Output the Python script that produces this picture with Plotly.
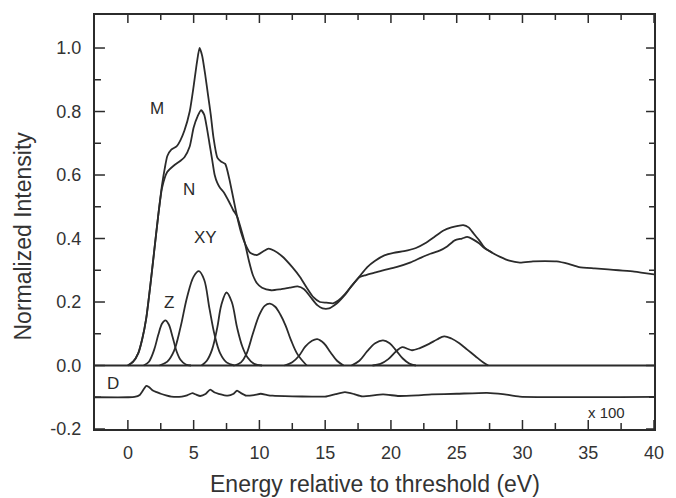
import plotly.graph_objects as go

# ---- measured spectra (energy in eV, normalized intensity) ----
m_energy = [0.0, 0.4, 0.8, 1.1, 1.4, 1.7, 2.0, 2.3, 2.6, 2.8, 3.0, 3.3, 3.7, 4.0, 4.3, 4.7,
            5.0, 5.25, 5.45, 5.65, 5.9, 6.1, 6.3, 6.5, 6.8, 7.1, 7.4, 7.7, 8.0, 8.3, 8.6,
            8.9, 9.3, 9.8, 10.3, 10.7, 11.1, 11.7, 12.5, 13.1, 13.6, 14.1, 14.6, 15.1, 15.6,
            16.0, 16.5, 17.0, 17.6, 18.2, 18.8, 19.5, 20.2, 21.0, 21.9, 22.6, 23.3, 24.0,
            24.6, 25.1, 25.5, 25.9, 26.3, 26.7, 27.1, 27.7, 28.3, 29.0, 29.8, 30.8, 31.7,
            32.6, 33.5, 34.3, 35.5, 36.5, 37.3, 38.5, 40.0]
m_values = [0.0, 0.012, 0.04, 0.085, 0.15, 0.25, 0.36, 0.47, 0.57, 0.62, 0.66, 0.68, 0.69,
            0.71, 0.74, 0.8, 0.88, 0.955, 1.0, 0.975, 0.91, 0.85, 0.79, 0.72, 0.655, 0.642,
            0.635, 0.59, 0.53, 0.47, 0.42, 0.385, 0.355, 0.348, 0.36, 0.368, 0.362, 0.345,
            0.31, 0.278, 0.245, 0.215, 0.2, 0.198, 0.196, 0.205, 0.225, 0.25, 0.28, 0.31,
            0.33, 0.347, 0.355, 0.36, 0.37, 0.385, 0.405, 0.425, 0.435, 0.44, 0.442, 0.435,
            0.415, 0.395, 0.372, 0.355, 0.342, 0.33, 0.324, 0.328, 0.329, 0.328, 0.32,
            0.31, 0.306, 0.303, 0.3, 0.296, 0.287]

n_energy = [0.0, 0.4, 0.8, 1.1, 1.4, 1.7, 2.0, 2.3, 2.6, 3.0, 3.5, 4.0, 4.3, 4.7, 5.0, 5.3,
            5.56, 5.8, 6.0, 6.2, 6.4, 6.6, 6.8, 7.0, 7.3, 7.7, 8.0, 8.3, 8.6, 8.9, 9.2, 9.5,
            9.8, 10.2, 10.9, 11.6, 12.3, 12.9, 13.4, 13.9, 14.4, 14.8, 15.3, 15.7, 16.0, 16.5,
            17.0, 17.6, 18.1, 18.7, 19.4, 20.4, 21.5, 22.3, 23.0, 23.7, 24.3, 24.85, 25.4,
            25.8, 26.2, 26.7, 27.1, 27.7]
n_values = [0.0, 0.012, 0.04, 0.085, 0.15, 0.25, 0.36, 0.47, 0.56, 0.61, 0.63, 0.645,
            0.656, 0.69, 0.75, 0.785, 0.804, 0.79, 0.75, 0.7, 0.65, 0.6, 0.575, 0.56, 0.545,
            0.515, 0.49, 0.47, 0.43, 0.385, 0.33, 0.285, 0.26, 0.245, 0.237, 0.24, 0.245,
            0.249, 0.24, 0.215, 0.19, 0.18, 0.18, 0.19, 0.2, 0.222, 0.25, 0.278, 0.285,
            0.292, 0.3, 0.31, 0.325, 0.34, 0.352, 0.362, 0.376, 0.394, 0.4, 0.405, 0.398,
            0.385, 0.37, 0.355]

# ---- fitted component peaks ----
z_energy = [1.2, 1.6, 2.0, 2.3, 2.6, 2.85, 3.1, 3.4, 3.7, 4.0, 4.4, 4.8]
z_values = [0.0, 0.012, 0.05, 0.095, 0.132, 0.142, 0.13, 0.09, 0.045, 0.018, 0.003, 0.0]

xy_energy = [2.4, 3.0, 3.5, 4.0, 4.5, 5.0, 5.4, 5.8, 6.2, 6.6, 7.0, 7.5, 8.1]
xy_values = [0.0, 0.012, 0.045, 0.12, 0.215, 0.28, 0.297, 0.27, 0.18, 0.095, 0.04, 0.01, 0.0]

p3_energy = [5.6, 6.0, 6.4, 6.8, 7.1, 7.5, 7.9, 8.3, 8.7, 9.1, 9.6, 10.2]
p3_values = [0.0, 0.015, 0.05, 0.12, 0.19, 0.23, 0.2, 0.12, 0.06, 0.025, 0.005, 0.0]

p4_energy = [8.1, 8.6, 9.0, 9.5, 10.0, 10.4, 10.8, 11.2, 11.6, 12.0, 12.4, 12.9, 13.6]
p4_values = [0.0, 0.01, 0.035, 0.1, 0.16, 0.188, 0.195, 0.185, 0.16, 0.125, 0.08, 0.035, 0.0]

p5_energy = [11.9, 12.5, 13.0, 13.5, 14.0, 14.4, 14.9, 15.4, 15.9, 16.4]
p5_values = [0.0, 0.01, 0.03, 0.06, 0.078, 0.083, 0.07, 0.042, 0.015, 0.0]

p6_energy = [17.0, 17.6, 18.2, 18.8, 19.4, 19.9, 20.4, 20.9, 21.4, 21.9]
p6_values = [0.0, 0.015, 0.045, 0.07, 0.079, 0.07, 0.047, 0.022, 0.006, 0.0]

p7_energy = [18.6, 19.2, 19.8, 20.4, 20.85, 21.3, 21.6, 22.2, 22.9, 23.5, 24.05, 24.6,
             25.2, 25.8, 26.4, 27.0, 27.4]
p7_values = [0.0, 0.005, 0.02, 0.045, 0.058, 0.052, 0.048, 0.055, 0.068, 0.082, 0.092,
             0.085, 0.07, 0.05, 0.03, 0.01, 0.0]

# ---- difference trace (x 100), drawn about an offset baseline ----
d_offset = -0.1
d_energy = [-2.5, 0.0, 0.5, 0.9, 1.2, 1.4, 1.6, 1.9, 2.2, 2.5, 2.9, 3.3, 4.1, 4.5, 4.9,
            5.2, 5.5, 5.9, 6.26, 6.6, 6.9, 7.6, 8.0, 8.3, 8.6, 9.0, 9.6, 10.1, 10.6, 11.0,
            12.5, 14.0, 15.0, 15.8, 16.5, 17.2, 17.8, 19.4, 20.6, 22.0, 23.1, 25.0, 27.3,
            28.5, 29.8, 40.0]
d_values = [0.0, 0.0, 0.001, 0.007, 0.025, 0.036, 0.032, 0.021, 0.016, 0.011, 0.006, 0.002,
            0.002, 0.006, 0.013, 0.008, 0.004, 0.01, 0.024, 0.015, 0.011, 0.005, 0.01,
            0.021, 0.013, 0.005, 0.007, 0.011, 0.007, 0.005, 0.003, 0.002, 0.002, 0.01,
            0.016, 0.01, 0.003, 0.009, 0.004, 0.006, 0.009, 0.011, 0.014, 0.01, 0.002, 0.001]

x_ticks = [0, 5, 10, 15, 20, 25, 30, 35, 40]
x_ticklabels = ["0", "5", "10", "15", "20", "25", "30", "35", "40"]
x_minor_ticks = [2.5, 7.5, 12.5, 17.5, 22.5, 27.5, 32.5, 37.5]
y_ticks = [-0.2, 0.0, 0.2, 0.4, 0.6, 0.8, 1.0]
y_ticklabels = ["-0.2", "0.0", "0.2", "0.4", "0.6", "0.8", "1.0"]
y_minor_ticks = [-0.1, 0.1, 0.3, 0.5, 0.7, 0.9]

x_range = [-2.5, 40.0]
y_range = [-0.2, 1.104]

WIDTH, HEIGHT = 676, 498
MARGIN = dict(l=95, r=19, t=15, b=69)

INK = "#2b2b2b"
TEXT = "#333333"
FONT = "Liberation Sans, Arial, Helvetica, sans-serif"
LW = 1.8

# data units per pixel along each axis, used to size the inward tick marks
X_PER_PX = (x_range[1] - x_range[0]) / (WIDTH - MARGIN["l"] - MARGIN["r"])
Y_PER_PX = (y_range[1] - y_range[0]) / (HEIGHT - MARGIN["t"] - MARGIN["b"])

fig = go.Figure()


def tick_segments(values, edge, length_px, vertical, inward):
    """Build one polyline of short inward ticks, separated by gaps."""
    xs, ys = [], []
    for v in values:
        if vertical:
            xs += [v, v, None]
            ys += [edge, edge + inward * length_px * Y_PER_PX, None]
        else:
            xs += [edge, edge + inward * length_px * X_PER_PX, None]
            ys += [v, v, None]
    fig.add_trace(go.Scatter(x=xs, y=ys, mode="lines", connectgaps=False,
                             line=dict(color=INK, width=1.5),
                             hoverinfo="skip", showlegend=False))


# frame ticks: bottom, top, left, right (major and minor)
tick_segments(x_ticks, y_range[0], 9, True, 1)
tick_segments(x_minor_ticks, y_range[0], 6, True, 1)
tick_segments(x_ticks, y_range[1], 8, True, -1)
tick_segments(x_minor_ticks, y_range[1], 5, True, -1)
tick_segments(y_ticks, x_range[0], 10, False, 1)
tick_segments(y_minor_ticks, x_range[0], 6, False, 1)
tick_segments(y_ticks, x_range[1], 8, False, -1)
tick_segments(y_minor_ticks, x_range[1], 5, False, -1)


def add_curve(x, y, smoothing=0.9, shape="spline"):
    fig.add_trace(go.Scatter(
        x=x, y=y, mode="lines",
        line=dict(color=INK, width=LW, shape=shape, smoothing=smoothing),
        hoverinfo="skip", showlegend=False,
    ))


# baseline of the components
add_curve(x_range, [0.0, 0.0], shape="linear")

for ex, vy in [(z_energy, z_values), (xy_energy, xy_values), (p3_energy, p3_values),
               (p4_energy, p4_values), (p5_energy, p5_values), (p6_energy, p6_values),
               (p7_energy, p7_values)]:
    add_curve(ex, vy, smoothing=1.0)

add_curve(m_energy, m_values, smoothing=0.6)
add_curve(n_energy, n_values, smoothing=0.6)

# difference trace
add_curve(d_energy, [d_offset + v for v in d_values], smoothing=0.5)

# curve labels
labels = [("M", 2.25, 0.808), ("N", 4.64, 0.555), ("XY", 5.9, 0.404),
          ("Z", 3.14, 0.199), ("D", -1.15, -0.057)]
for text, lx, ly in labels:
    fig.add_annotation(x=lx, y=ly, text=text, showarrow=False,
                       font=dict(family=FONT, size=17, color=INK))

fig.add_annotation(x=36.4, y=-0.149, text="x 100", showarrow=False,
                   font=dict(family=FONT, size=15, color=INK))

# axis titles
fig.add_annotation(xref="paper", yref="paper", x=0.5, y=0, yshift=-55,
                   xanchor="center", yanchor="middle", showarrow=False,
                   text="Energy relative to threshold (eV)",
                   font=dict(family=FONT, size=23, color=TEXT))
fig.add_annotation(xref="paper", yref="paper", x=-0.128, y=0.466, textangle=-90,
                   xanchor="center", yanchor="middle", showarrow=False,
                   text="Normalized Intensity",
                   font=dict(family=FONT, size=23, color=TEXT))

# transparent outside ticks only set the gap between the frame and the tick labels
fig.update_layout(
    width=WIDTH, height=HEIGHT,
    margin=MARGIN,
    plot_bgcolor="white",
    showlegend=False,
    xaxis=dict(
        range=x_range, tickvals=x_ticks, ticktext=x_ticklabels,
        ticks="outside", ticklen=6, tickcolor="rgba(0,0,0,0)",
        showline=True, linecolor=INK, linewidth=2, mirror=True,
        showgrid=False, zeroline=False,
        tickfont=dict(family=FONT, size=18, color=TEXT),
    ),
    yaxis=dict(
        range=y_range, tickvals=y_ticks, ticktext=y_ticklabels,
        ticks="outside", ticklen=8, tickcolor="rgba(0,0,0,0)",
        showline=True, linecolor=INK, linewidth=2, mirror=True,
        showgrid=False, zeroline=False,
        tickfont=dict(family=FONT, size=18, color=TEXT),
    ),
)

fig.write_html("out.html")
